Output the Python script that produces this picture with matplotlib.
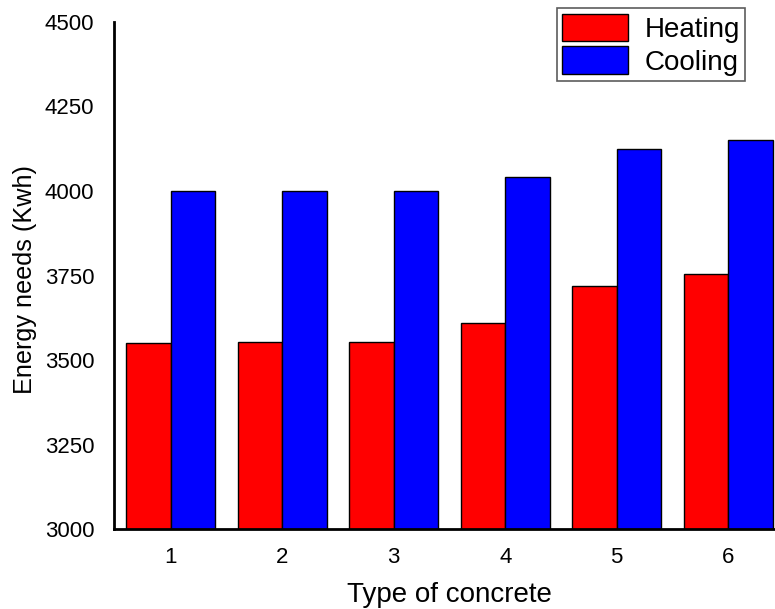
import matplotlib
matplotlib.use("Agg")
import matplotlib.pyplot as plt
import numpy as np

plt.rcParams['font.family'] = ['Liberation Sans', 'DejaVu Sans']

concrete_types = ["1", "2", "3", "4", "5", "6"]
heating = [3550, 3555, 3555, 3610, 3720, 3755]
cooling = [4000, 4000, 4000, 4040, 4125, 4150]
y_ticks = [3000, 3250, 3500, 3750, 4000, 4250, 4500]

fig = plt.figure(figsize=(7.75, 6.09), dpi=100)
ax = fig.add_axes([0.147, 0.131, 0.853, 0.833])

x = np.arange(1, len(concrete_types) + 1)
w = 0.4
ax.bar(x - w / 2, heating, width=w, color='#ff0000', edgecolor='black',
       linewidth=1.0, label='Heating')
ax.bar(x + w / 2, cooling, width=w, color='#0000ff', edgecolor='black',
       linewidth=1.0, label='Cooling')

ax.set_ylim(3000, 4500)
ax.set_xlim(0.49, 6.42)
ax.set_yticks(y_ticks)
ax.set_yticklabels([str(v) for v in y_ticks])
ax.set_xticks(x)
ax.set_xticklabels(concrete_types)
ax.tick_params(axis='both', length=0, labelsize=16)
ax.tick_params(axis='y', pad=14)
ax.tick_params(axis='x', pad=13)

for s in ('top', 'right'):
    ax.spines[s].set_visible(False)
for s in ('left', 'bottom'):
    ax.spines[s].set_linewidth(2)
    ax.spines[s].set_color('black')

ax.set_xlabel('Type of concrete', fontsize=20, va='center')
ax.xaxis.set_label_coords(0.507, -0.130)
ax.set_ylabel('Energy needs (Kwh)', fontsize=18.2, va='center')
ax.yaxis.set_label_coords(-0.1346, 0.493)

leg = ax.legend(loc='upper right', bbox_to_anchor=(0.955, 1.027), fontsize=20,
                frameon=True, fancybox=False, edgecolor='#333333',
                handlelength=2.35, handleheight=1.15, handletextpad=0.6,
                borderpad=0.2, labelspacing=0.12, borderaxespad=0)
leg.get_frame().set_linewidth(1.2)

fig.savefig('out.png', dpi=100)
